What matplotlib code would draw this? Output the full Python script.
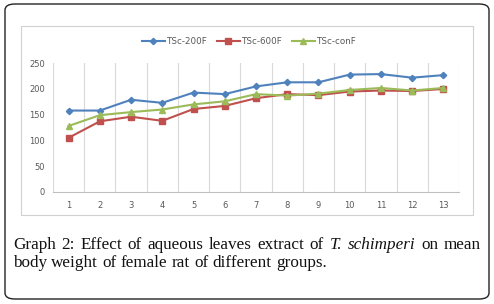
"""
Body weight of female rats per group (Graph 2), redrawn with matplotlib
"""

import matplotlib
matplotlib.use("Agg")
import matplotlib.pyplot as plt
from matplotlib.patches import FancyBboxPatch, Rectangle

# Data
weeks = list(range(1, 14))
series_names = ["TSc-200F", "TSc-600F", "TSc-conF"]
tsc_200f = [158, 158, 179, 173, 193, 190, 205, 213, 213, 228, 229, 222, 227]
tsc_600f = [105, 137, 146, 138, 161, 167, 182, 190, 188, 195, 197, 196, 200]
tsc_conf = [128, 149, 155, 160, 170, 176, 190, 187, 191, 198, 202, 197, 202]
y_ticks = [0, 50, 100, 150, 200, 250]

caption_lines = [
    [("Graph", "normal"), ("2:", "normal"), ("Effect", "normal"), ("of", "normal"),
     ("aqueous", "normal"), ("leaves", "normal"), ("extract", "normal"), ("of", "normal"),
     ("T.", "italic"), ("schimperi", "italic"), ("on", "normal"), ("mean", "normal")],
    [("body", "normal"), ("weight", "normal"), ("of", "normal"), ("female", "normal"),
     ("rat", "normal"), ("of", "normal"), ("different", "normal"), ("groups.", "normal")],
]

W, H = 494, 304
fig = plt.figure(figsize=(W / 100, H / 100), dpi=100)

# outer rounded frame
fig.patches.append(FancyBboxPatch((5 / W, 5 / H), 484 / W, 295 / H,
                                  boxstyle="round,pad=0,rounding_size=0.02",
                                  transform=fig.transFigure, fill=False,
                                  edgecolor="#222222", linewidth=1.0))
# chart area frame
fig.patches.append(Rectangle((20.5 / W, 1 - 215 / H), 452 / W, 189 / H,
                             transform=fig.transFigure, fill=False,
                             edgecolor="#d0d0d0", linewidth=0.8))

ax = fig.add_axes([53 / W, 1 - 191.7 / H, 406 / W, 128.4 / H])
ax.plot(weeks, tsc_200f, color="#4F81BD", marker="D", markersize=3.2, lw=1.5,
        label=series_names[0])
ax.plot(weeks, tsc_600f, color="#C0504D", marker="s", markersize=4.5, lw=1.5,
        label=series_names[1])
ax.plot(weeks, tsc_conf, color="#9BBB59", marker="^", markersize=4.5, lw=1.5,
        label=series_names[2])

ax.set_xlim(0.5, 13.5)
ax.set_ylim(0, 250)
for b in [i + 0.5 for i in range(14)]:
    ax.axvline(b, color="#d9d9d9", lw=0.8, zorder=0)
for s in ["top", "right", "left"]:
    ax.spines[s].set_visible(False)
ax.spines["bottom"].set_color("#bfbfbf")
ax.set_xticks(weeks)
ax.set_yticks(y_ticks)
ax.tick_params(length=0, labelsize=6, labelcolor="#595959", pad=6)
ax.tick_params(axis="x", pad=7)

ax.legend(loc="center", bbox_to_anchor=(249 / W, 1 - 42 / H),
          bbox_transform=fig.transFigure, ncol=3, frameon=False,
          fontsize=6.3, labelcolor="#595959", handlelength=2.6,
          handletextpad=0.2, columnspacing=1.1)

# caption, justified on the first line
fig.canvas.draw()
renderer = fig.canvas.get_renderer()
x0, x1 = 13, 481
fs = 12.3
for li, (line, yy) in enumerate(zip(caption_lines, [245, 263])):
    texts = []
    for word, style in line:
        t = fig.text(0, 1 - yy / H, word, fontsize=fs, family="Liberation Serif",
                     style=style, va="center", ha="left", color="#111111")
        texts.append(t)
    widths = [t.get_window_extent(renderer).width for t in texts]
    space = renderer.points_to_pixels(fs) * 0.25
    if li == 0:
        space = (x1 - x0 - sum(widths)) / (len(widths) - 1)
    x = x0
    for t, w in zip(texts, widths):
        t.set_x(x / W)
        x += w + space

fig.savefig("out.png", dpi=100)
